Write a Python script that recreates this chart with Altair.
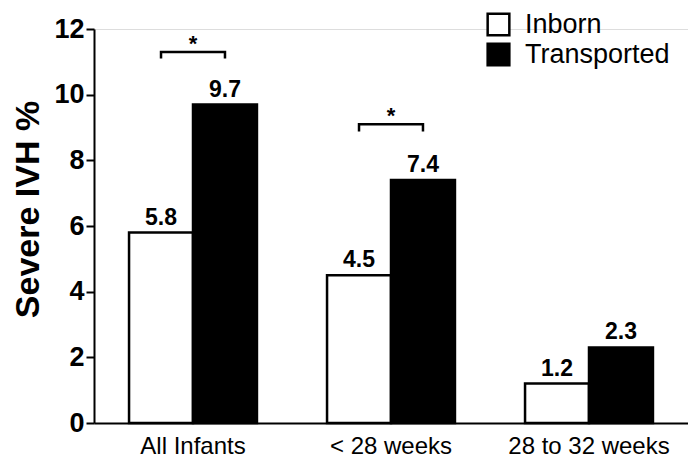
import altair as alt
import pandas as pd

groups = ["All Infants", "< 28 weeks", "28 to 32 weeks"]
series = ["Inborn", "Transported"]
inborn = [5.8, 4.5, 1.2]
transported = [9.7, 7.4, 2.3]
y_ticks = [0, 2, 4, 6, 8, 10, 12]

# significance brackets (group, low tick end, bracket level, star level)
sig_groups = ["All Infants", "< 28 weeks"]
sig_low = [11.1, 8.88]
sig_high = [11.3, 9.1]
sig_star = [11.55, 9.35]

rows = []
for g, a, b in zip(groups, inborn, transported):
    rows.append({"group": g, "series": "Inborn", "value": a, "label": f"{a:.1f}"})
    rows.append({"group": g, "series": "Transported", "value": b, "label": f"{b:.1f}"})
df = pd.DataFrame(rows)

brow = []
for g, lo, hi in zip(sig_groups, sig_low, sig_high):
    brow += [
        {"group": g, "series": "Inborn", "y": lo, "o": 0},
        {"group": g, "series": "Inborn", "y": hi, "o": 1},
        {"group": g, "series": "Transported", "y": hi, "o": 2},
        {"group": g, "series": "Transported", "y": lo, "o": 3},
    ]
bdf = pd.DataFrame(brow)
sdf = pd.DataFrame({"group": sig_groups, "y": sig_star, "t": ["*"] * len(sig_groups)})

FONT = "Liberation Sans"

xenc = alt.X("group:N", sort=groups,
             scale=alt.Scale(paddingInner=0.354, paddingOuter=0.177),
             axis=alt.Axis(title=None, labelAngle=0, labelFontSize=24, labelFont=FONT,
                           labelColor="black", ticks=False, labelPadding=11,
                           domainColor="black", domainWidth=2))
yscale = alt.Scale(domain=[0, 12])
xoff = alt.XOffset("series:N", sort=series, scale=alt.Scale(paddingInner=0, paddingOuter=0))

bars = alt.Chart(df).mark_bar(stroke="black", strokeWidth=2.5).encode(
    x=xenc,
    xOffset=xoff,
    y=alt.Y("value:Q", scale=yscale,
            axis=alt.Axis(values=y_ticks, title="Severe IVH %", titleFontSize=34,
                          titleFont=FONT, titleFontWeight="bold", titleColor="black",
                          titlePadding=8, titleY=180,
                          labelFontSize=27, labelFont=FONT, labelFontWeight="bold",
                          labelColor="black", grid=False, tickSize=8, tickWidth=2,
                          tickColor="black", domainColor="black", domainWidth=2,
                          labelPadding=2)),
    fill=alt.Fill("series:N", sort=series,
                  scale=alt.Scale(domain=series, range=["white", "black"]),
                  legend=alt.Legend(title=None, orient="none", legendX=391, legendY=-18,
                                    symbolType="square", symbolSize=470,
                                    symbolStrokeColor="black", symbolStrokeWidth=2.5,
                                    labelFontSize=27, labelFont=FONT, labelColor="black",
                                    rowPadding=-4, labelOffset=13)),
)

labels = alt.Chart(df).mark_text(fontSize=23, font=FONT, fontWeight="bold",
                                 baseline="alphabetic", dy=-8, color="black").encode(
    x=alt.X("group:N", sort=groups),
    xOffset=xoff,
    y=alt.Y("value:Q", scale=yscale),
    text="label:N",
)

brackets = alt.Chart(bdf).mark_line(color="black", strokeWidth=2.5).encode(
    x=alt.X("group:N", sort=groups),
    xOffset=xoff,
    y=alt.Y("y:Q", scale=yscale),
    detail="group:N",
    order="o:Q",
)

stars = alt.Chart(sdf).mark_text(fontSize=22, font=FONT, fontWeight="bold",
                                 color="black").encode(
    x=alt.X("group:N", sort=groups),
    y=alt.Y("y:Q", scale=yscale),
    text="t:N",
)

chart = alt.layer(bars, labels, brackets, stars).properties(
    width=594, height=394,
    autosize=alt.AutoSizeParams(type="none"),
    padding={"left": 86, "top": 21, "right": 0, "bottom": 38},
).configure_view(stroke=None).configure(background="white")

chart.save("out.html", embed_options={"renderer": "svg", "actions": False})
